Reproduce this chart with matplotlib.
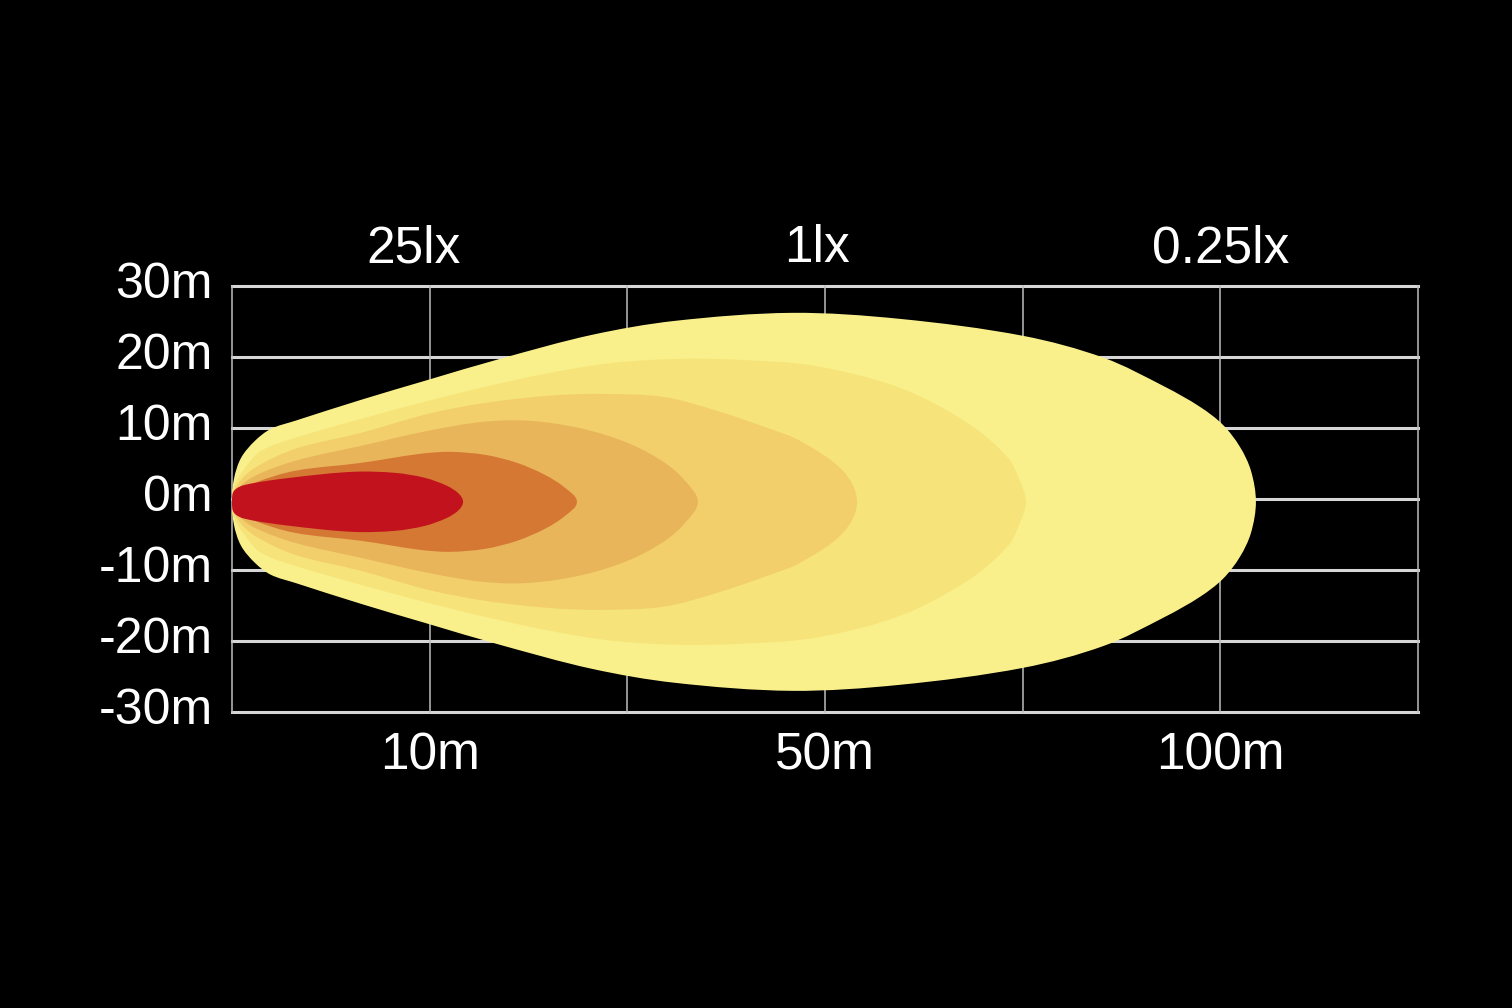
import math

import matplotlib
matplotlib.use('Agg')
import matplotlib.pyplot as plt
import matplotlib.transforms as mtransforms
from matplotlib.patches import PathPatch
from matplotlib.path import Path

# x in grid cells from the lamp (0..6), y in metres either side of the beam axis
beam_axis = -0.4

# upper half of each isolux contour, outer to inner (mirrored for lower half)
lux_pale_x = [0, 0.01, 0.046, 0.116, 0.197, 0.319, 0.653, 0.992, 1.356, 1.821, 2.241, 2.833,
              3.379, 4.002, 4.411, 4.720, 4.897, 5.013, 5.099, 5.155, 5.180]
lux_pale_y = [0, 3.24, 6.20, 8.59, 10.28, 11.41, 14.37, 17.18, 20.14, 23.52, 25.49, 26.62,
              25.77, 23.38, 20.28, 16.20, 13.38, 10.85, 7.75, 4.37, 0]

lux_yellow_x = [0, 0.005, 0.066, 0.147, 0.319, 0.653, 0.992, 1.280, 1.609, 1.927, 2.266, 2.570,
                2.949, 3.379, 3.728, 3.926, 3.986, 4.017]
lux_yellow_y = [0, 1.97, 4.79, 7.18, 9.01, 11.69, 14.23, 16.20, 18.17, 19.58, 20.14, 20.00,
                19.15, 16.06, 10.99, 6.20, 2.96, 0]

lux_gold_x = [0, 0.030, 0.116, 0.319, 0.653, 0.992, 1.280, 1.594, 1.847, 2.180, 2.454, 2.722,
              2.874, 3.091, 3.162]
lux_gold_y = [0, 2.54, 4.79, 7.46, 9.72, 12.39, 13.94, 14.93, 15.21, 14.79, 12.82, 10.28,
              8.59, 4.37, 0]

lux_amber_x = [0, 0.030, 0.116, 0.319, 0.653, 0.992, 1.270, 1.508, 1.776, 2.013, 2.190, 2.292, 2.357]
lux_amber_y = [0, 1.83, 3.66, 5.77, 7.89, 10.00, 11.27, 11.41, 10.28, 8.17, 5.49, 2.96, 0]

lux_orange_x = [0, 0.030, 0.116, 0.319, 0.653, 0.951, 1.103, 1.280, 1.442, 1.583, 1.685, 1.745]
lux_orange_y = [0, 1.27, 2.68, 4.37, 5.49, 6.76, 7.04, 6.62, 5.49, 3.80, 1.97, 0]

lux_red_x = [0, 0.010, 0.066, 0.293, 0.612, 0.825, 0.976, 1.088, 1.148, 1.169]
lux_red_y = [0, 1.55, 2.39, 3.38, 4.23, 4.08, 3.38, 2.25, 1.13, 0]

contours = [
    (lux_pale_x, lux_pale_y, '#F9F08C'),
    (lux_yellow_x, lux_yellow_y, '#F6E47A'),
    (lux_gold_x, lux_gold_y, '#F2CF6A'),
    (lux_amber_x, lux_amber_y, '#E8B55A'),
    (lux_orange_x, lux_orange_y, '#D57834'),
    (lux_red_x, lux_red_y, '#C1121D'),
]

y_ticks = [30, 20, 10, 0, -10, -20, -30]
y_labels = ['30m', '20m', '10m', '0m', '-10m', '-20m', '-30m']
x_ticks = [1, 3, 5]
x_labels = ['10m', '50m', '100m']
lux_label_x = [0.92, 2.96, 5.0]
lux_labels = ['25lx', '1lx', '0.25lx']

# rough pixel size of one x unit / one metre, only used to shape the curve handles
SX, SY = 197.7, 7.1


def smooth_closed(pts):
    # closed bezier outline through the points, handles sized by chord length
    n = len(pts)
    sp = [(x * SX, y * SY) for x, y in pts]
    dirs = []
    for i in range(n):
        dx = sp[(i + 1) % n][0] - sp[i - 1][0]
        dy = sp[(i + 1) % n][1] - sp[i - 1][1]
        d = math.hypot(dx, dy) or 1.0
        dirs.append((dx / d, dy / d))
    verts = [pts[0]]
    codes = [Path.MOVETO]
    for i in range(n):
        j = (i + 1) % n
        L = math.hypot(sp[j][0] - sp[i][0], sp[j][1] - sp[i][1]) / 3
        c1 = ((sp[i][0] + dirs[i][0] * L) / SX, (sp[i][1] + dirs[i][1] * L) / SY)
        c2 = ((sp[j][0] - dirs[j][0] * L) / SX, (sp[j][1] - dirs[j][1] * L) / SY)
        verts += [c1, c2, pts[j]]
        codes += [Path.CURVE4] * 3
    return Path(verts, codes)


plt.rcParams['font.family'] = ['Liberation Sans', 'DejaVu Sans']

fig = plt.figure(figsize=(15.12, 10.08), dpi=100, facecolor='black')
ax = fig.add_axes([232 / 1512, 1 - 712 / 1008, 1186 / 1512, 426 / 1008])
ax.set_facecolor('black')
ax.set_xlim(0, 6)
ax.set_ylim(-30, 30)

for y in y_ticks:
    ax.axhline(y, color='#D6D6D6', linewidth=2.2, zorder=1, clip_on=False)
for x in range(7):
    ax.axvline(x, color='#BEBEBE', linewidth=1.1, zorder=1, clip_on=False)

for i, (xs, ys, color) in enumerate(contours):
    upper = [(x, beam_axis + y) for x, y in zip(xs, ys)]
    lower = [(x, beam_axis - y) for x, y in zip(xs, ys)][-2:0:-1]
    patch = PathPatch(smooth_closed(upper + lower), facecolor=color, edgecolor='none',
                      linewidth=0, zorder=2 + i)
    ax.add_patch(patch)

for s in ax.spines.values():
    s.set_visible(False)

ax.set_yticks(y_ticks)
ax.set_yticklabels(y_labels)
ax.set_xticks(x_ticks)
ax.set_xticklabels(x_labels)
ax.tick_params(axis='y', length=0, pad=14, labelsize=36, labelcolor='white')
ax.tick_params(axis='x', length=0, pad=14, labelsize=37, labelcolor='white')

shift_up = mtransforms.ScaledTranslation(0, 4 / 72, fig.dpi_scale_trans)
for lab in ax.get_yticklabels():
    lab.set_transform(lab.get_transform() + shift_up)

for x, t in zip(lux_label_x, lux_labels):
    ax.text(x, 1.03, t, transform=ax.get_xaxis_transform(), ha='center', va='bottom',
            fontsize=37, color='white')

fig.savefig('out.png', dpi=100, facecolor='black')
